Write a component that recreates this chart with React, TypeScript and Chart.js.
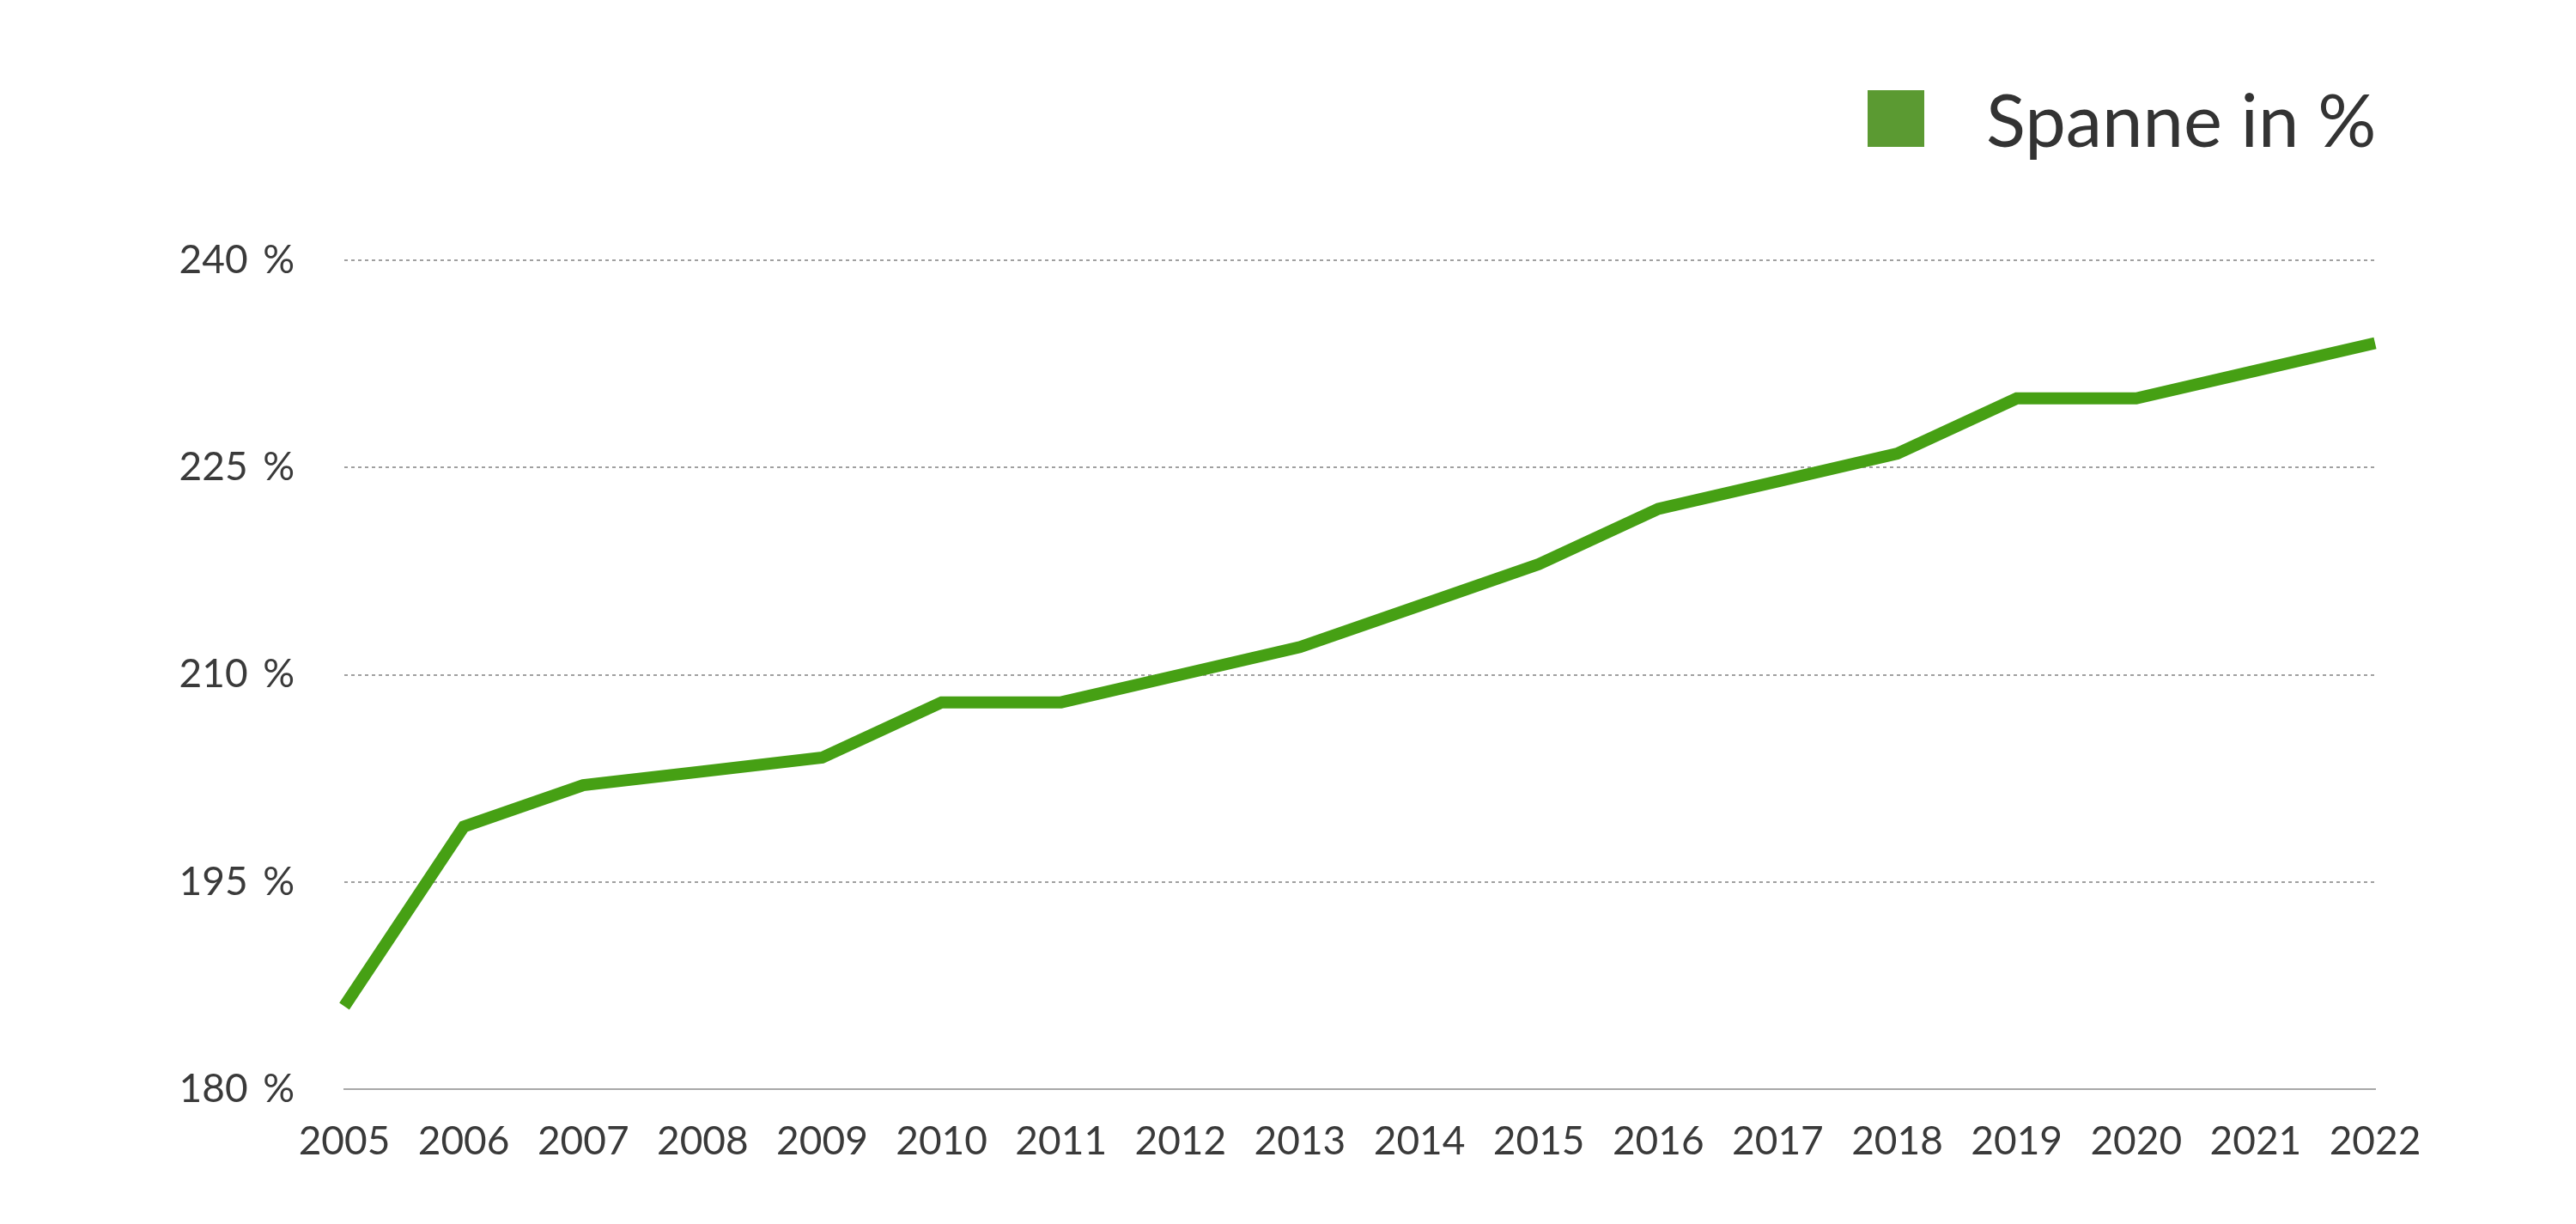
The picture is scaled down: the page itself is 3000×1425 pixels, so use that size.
import React, { useEffect, useRef } from "react";
import { Chart, registerables } from "chart.js";

Chart.register(...registerables);

const years = ["2005","2006","2007","2008","2009","2010","2011","2012","2013","2014","2015","2016","2017","2018","2019","2020","2021","2022"];
const spanne = [186, 199, 202, 203, 204, 208, 208, 210, 212, 215, 218, 222, 224, 226, 230, 230, 232, 234];
const yTicks = [180, 195, 210, 225, 240];
const legendLabel = "Spanne in %";

const FONT = "Lato, 'Noto Sans', sans-serif";

export default function App() {
  const ref = useRef<HTMLCanvasElement | null>(null);

  useEffect(() => {
    document.body.style.margin = "0";
    const ctx = ref.current!.getContext("2d")!;
    const chart = new Chart(ctx, {
      type: "line",
      data: {
        labels: years,
        datasets: [
          {
            label: legendLabel,
            data: spanne,
            borderColor: "#46a014",
            backgroundColor: "#5b9a32",
            borderWidth: 14,
            pointRadius: 0,
            tension: 0,
            borderCapStyle: "butt",
            borderJoinStyle: "miter",
          },
        ],
      },
      options: {
        animation: false,
        responsive: false,
        maintainAspectRatio: false,
        layout: { padding: { left: 0, right: 234, top: 303, bottom: 0 } },
        plugins: {
          legend: { display: false },
          tooltip: { enabled: false },
        },
        scales: {
          x: {
            offset: false,
            grid: { display: false, drawTicks: false },
            border: { display: true, color: "#a8a8a8", width: 2 },
            ticks: {
              padding: 34,
              color: "#3a3a3a",
              font: { family: FONT, size: 46 },
              maxRotation: 0,
              autoSkip: false,
            },
            afterFit: (s: any) => {
              s.height = 157;
            },
          },
          y: {
            min: 180,
            max: 240,
            afterBuildTicks: (s: any) => {
              s.ticks = yTicks.map((v) => ({ value: v }));
            },
            grid: {
              drawTicks: false,
              color: (c: any) => (c.tick && c.tick.value === 180 ? "rgba(0,0,0,0)" : "#a0a0a0"),
              lineWidth: 2,
            },
            border: { display: false, dash: [4, 4] },
            ticks: {
              padding: 58,
              color: "#3a3a3a",
              font: { family: FONT, size: 46 },
              callback: (v: any) => `${v}\u2009 %`,
            },
            afterFit: (s: any) => {
              s.width = 401;
            },
          },
        },
      },
    });
    return () => chart.destroy();
  }, []);

  return (
    <div style={{ position: "fixed", left: 0, top: 0, width: 3000, height: 1425, background: "#fff" }}>
      <canvas ref={ref} width={3000} height={1425} style={{ position: "absolute", left: 0, top: 0, width: 3000, height: 1425 }} />
      <div
        style={{
          position: "absolute",
          left: 2175,
          top: 105,
          width: 66,
          height: 66,
          background: "#5b9a32",
        }}
      />
      <div
        style={{
          position: "absolute",
          left: 2313,
          top: 138,
          transform: "translateY(-50%)",
          fontFamily: FONT,
          fontSize: 85,
          lineHeight: 1,
          color: "#333333",
          whiteSpace: "nowrap",
        }}
      >
        {legendLabel}
      </div>
    </div>
  );
}
